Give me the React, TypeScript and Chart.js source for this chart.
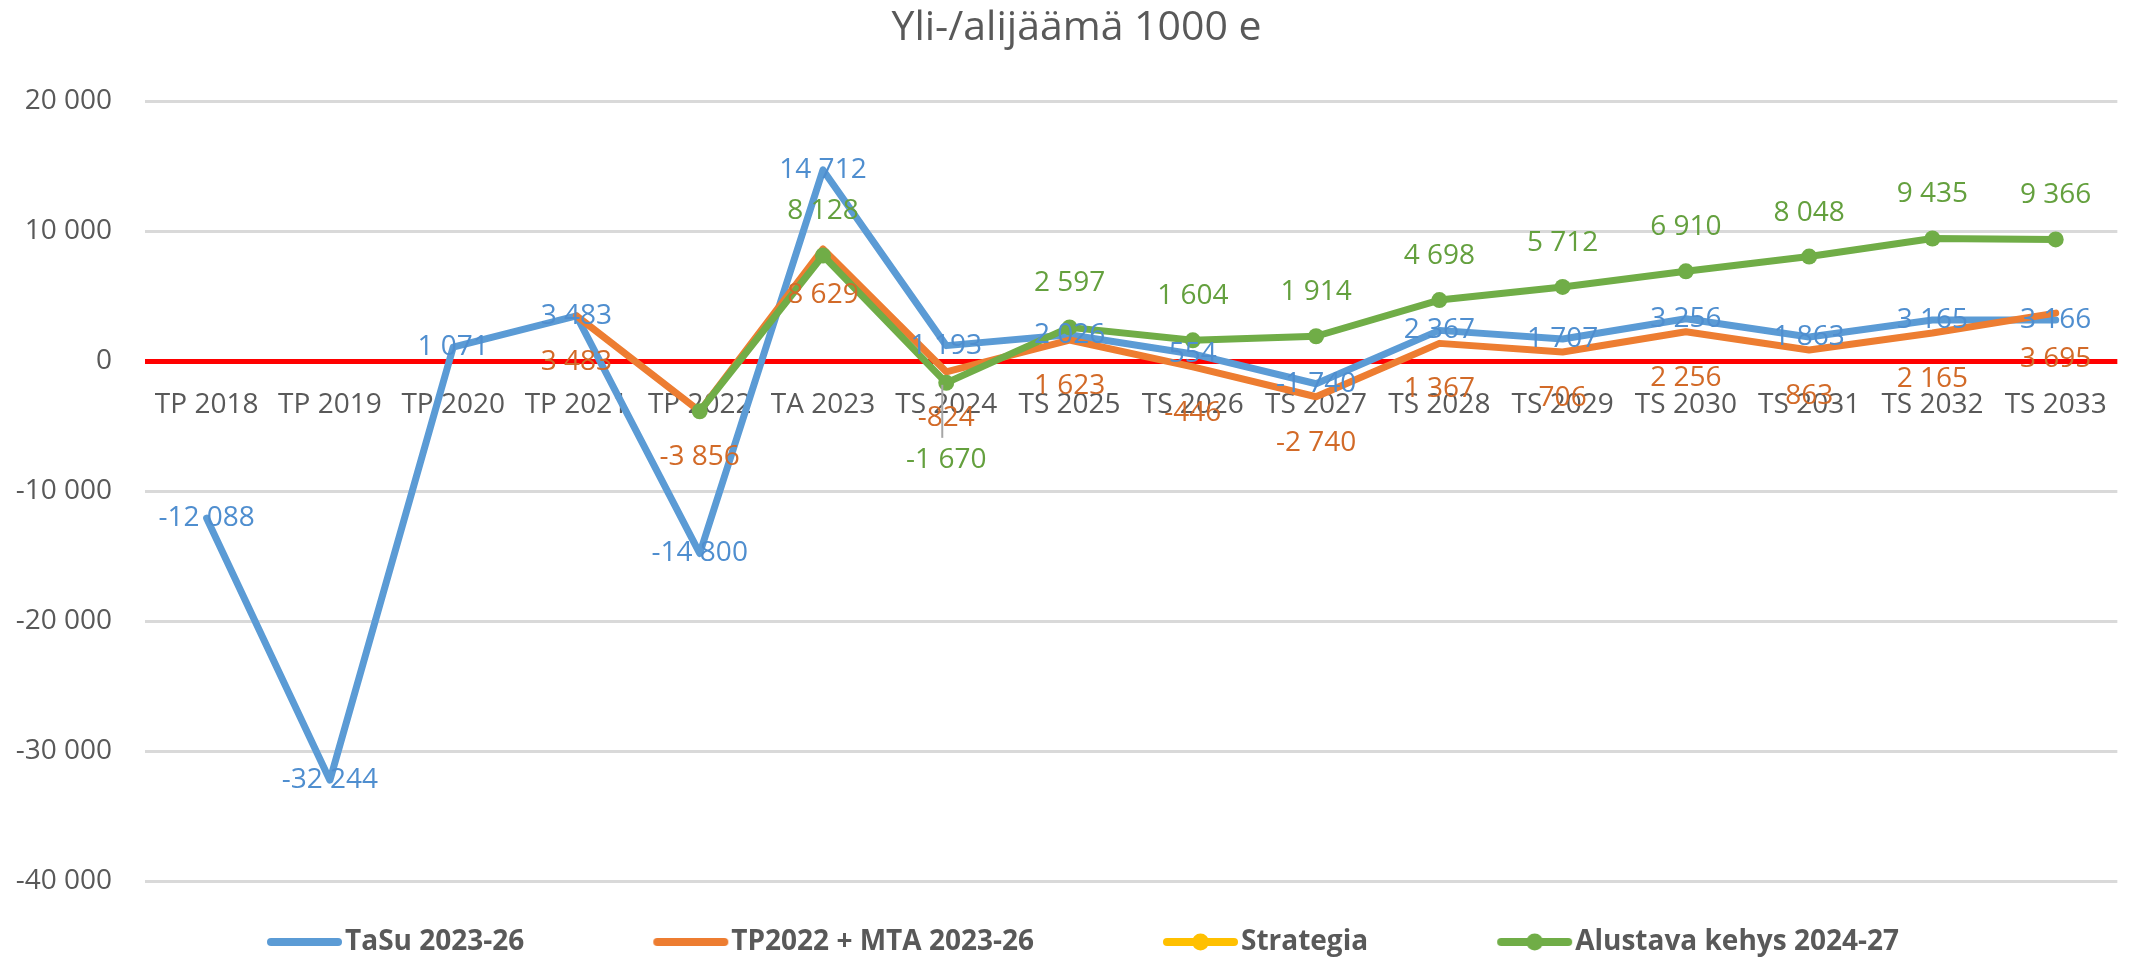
import React, { useEffect, useRef } from 'react';
import { Chart, registerables } from 'chart.js';

Chart.register(...registerables);

// ---------- data ----------
const categories = [
  'TP 2018', 'TP 2019', 'TP 2020', 'TP 2021', 'TP 2022', 'TA 2023', 'TS 2024', 'TS 2025',
  'TS 2026', 'TS 2027', 'TS 2028', 'TS 2029', 'TS 2030', 'TS 2031', 'TS 2032', 'TS 2033',
];
const tasu = [-12088, -32244, 1071, 3483, -14800, 14712, 1193, 2026, 554, -1740, 2367, 1707, 3256, 1863, 3165, 3166];
const tp2022mta = [null, null, null, 3483, -3856, 8629, -824, 1623, -446, -2740, 1367, 706, 2256, 863, 2165, 3695];
const strategia = [null, null, null, null, null, null, null, null, null, null, null, null, null, null, null, null];
const alustava = [null, null, null, null, -3856, 8128, -1670, 2597, 1604, 1914, 4698, 5712, 6910, 8048, 9435, 9366];
const yTicks = [20000, 10000, 0, -10000, -20000, -30000, -40000];
const seriesNames = ['TaSu 2023-26', 'TP2022 + MTA 2023-26', 'Strategia', 'Alustava kehys 2024-27'];
const titleText = 'Yli-/alijäämä 1000 e';

// ---------- styles ----------
const colors = ['#5b9bd5', '#ed7d31', '#ffc000', '#70ad47'];
const labelColors = ['#4f8ecf', '#d26a28', '#c99700', '#64a03e'];
const hasMarker = [false, false, true, true];
const FONT = '"Open Sans", "Liberation Sans", sans-serif';
const GREY = '#595959';

// label placement per dataset: dy offset from the point, hidden indexes, moved labels
const labelStyles: any[] = [
  { dy: 0 },
  { dy: 46 },
  null,
  { dy: -44, skip: [4], moved: { 6: 77 } },
];

function fmt(v: number): string {
  const s = Math.abs(Math.round(v)).toString().replace(/\B(?=(\d{3})+(?!\d))/g, ' ');
  return (v < 0 ? '-' : '') + s;
}

function makeIcon(color: string, marker: boolean): HTMLCanvasElement {
  const c = document.createElement('canvas');
  c.width = 77;
  c.height = 22;
  const g = c.getContext('2d')!;
  g.strokeStyle = color;
  g.lineWidth = 8;
  g.lineCap = 'round';
  g.beginPath();
  g.moveTo(5, 11);
  g.lineTo(72, 11);
  g.stroke();
  if (marker) {
    g.fillStyle = color;
    g.beginPath();
    g.arc(38.5, 11, 8.5, 0, Math.PI * 2);
    g.fill();
  }
  return c;
}

const pointLabels = {
  id: 'pointLabels',
  afterDatasetsDraw(chart: any) {
    const ctx = chart.ctx;
    ctx.save();
    ctx.font = `28px ${FONT}`;
    ctx.textAlign = 'center';
    ctx.textBaseline = 'middle';
    chart.data.datasets.forEach((ds: any, di: number) => {
      const cfg = labelStyles[di];
      if (!cfg) return;
      const meta = chart.getDatasetMeta(di);
      meta.data.forEach((pt: any, i: number) => {
        const v = ds.data[i];
        if (v === null || v === undefined) return;
        if (cfg.skip && cfg.skip.includes(i)) return;
        let dy = cfg.dy;
        if (cfg.moved && cfg.moved[i] !== undefined) {
          dy = cfg.moved[i];
          ctx.strokeStyle = '#a6a6a6';
          ctx.lineWidth = 2;
          ctx.beginPath();
          ctx.moveTo(pt.x - 4, pt.y + 2);
          ctx.lineTo(pt.x - 4, pt.y + dy - 22);
          ctx.stroke();
        }
        ctx.fillStyle = labelColors[di];
        ctx.fillText(fmt(v), pt.x, pt.y + dy);
      });
    });
    ctx.restore();
  },
};

const LEGEND_PAD = 140;
const blockShift = {
  id: 'blockShift',
  afterLayout(chart: any) {
    const lg = chart.legend;
    if (lg) {
      lg.bottom = chart.height;
      lg.top = chart.height - 18 - 14 - LEGEND_PAD;
      lg.left = 50;
      lg.right = chart.width - 7;
    }
    const tb = chart.titleBlock;
    if (tb) {
      tb.left = 26;
      tb.right = chart.width - 7;
    }
  },
};

export default function App() {
  const ref = useRef<HTMLCanvasElement | null>(null);

  useEffect(() => {
    document.body.style.margin = '0';
    const canvas = ref.current;
    if (!canvas) return;
    const icons = colors.map((c, i) => makeIcon(c, hasMarker[i]));
    const seriesData = [tasu, tp2022mta, strategia, alustava];
    const drawOrder = [3, 2, 1, 0];

    const chart = new Chart(canvas, {
      type: 'line',
      data: {
        labels: categories,
        datasets: seriesData.map((d, i) => ({
          label: seriesNames[i],
          data: d,
          borderColor: colors[i],
          backgroundColor: colors[i],
          borderWidth: 7,
          pointRadius: hasMarker[i] ? 8 : 0,
          pointBorderWidth: 0,
          pointBackgroundColor: colors[i],
          borderCapStyle: 'round',
          borderJoinStyle: 'round',
          tension: 0,
          fill: false,
          order: drawOrder[i],
        })) as any,
      },
      plugins: [pointLabels, blockShift],
      options: {
        animation: false,
        responsive: false,
        devicePixelRatio: 1,
        events: [],
        layout: { padding: { left: 0, right: 7, top: 0, bottom: 0 } },
        scales: {
          x: {
            type: 'category',
            position: { y: 0 } as any,
            offset: true,
            grid: { display: false, drawTicks: false },
            border: { display: false },
            ticks: {
              color: GREY,
              font: { family: FONT, size: 28 },
              padding: 27,
              maxRotation: 0,
              autoSkip: false,
            },
          },
          y: {
            type: 'linear',
            min: Math.min(...yTicks),
            max: Math.max(...yTicks),
            afterFit: (s: any) => { s.width = 145; },
            afterBuildTicks: (s: any) => { s.ticks = yTicks.map((v) => ({ value: v })); },
            grid: {
              drawTicks: false,
              color: (c: any) => (c.tick && c.tick.value === 0 ? '#ff0000' : '#d9d9d9'),
              lineWidth: (c: any) => (c.tick && c.tick.value === 0 ? 5 : 3),
            },
            border: { display: false },
            ticks: {
              color: GREY,
              font: { family: FONT, size: 28 },
              padding: 33,
              callback: (v: any) => fmt(Number(v)),
            },
          },
        },
        plugins: {
          title: {
            display: true,
            text: titleText,
            color: GREY,
            font: { family: FONT, size: 41, weight: 'normal', lineHeight: 1.2 },
            padding: { top: 4, bottom: 48 },
          },
          legend: {
            position: 'bottom',
            maxHeight: 79,
            labels: {
              usePointStyle: true,
              pointStyleWidth: 53,
              padding: LEGEND_PAD,
              color: GREY,
              font: { family: FONT, size: 28, weight: 'bold' },
              generateLabels: () =>
                seriesNames.map((name, i) => ({
                  text: name,
                  pointStyle: icons[i],
                  fillStyle: colors[i],
                  strokeStyle: colors[i],
                  lineWidth: 0,
                  hidden: false,
                  datasetIndex: i,
                  fontColor: GREY,
                })),
            },
          } as any,
          tooltip: { enabled: false },
        },
      } as any,
    });
    return () => chart.destroy();
  }, []);

  return (
    <div style={{ width: 2134, height: 960, overflow: 'hidden', background: '#fff' }}>
      <canvas ref={ref} width={2134} height={960} style={{ display: 'block' }} />
    </div>
  );
}
